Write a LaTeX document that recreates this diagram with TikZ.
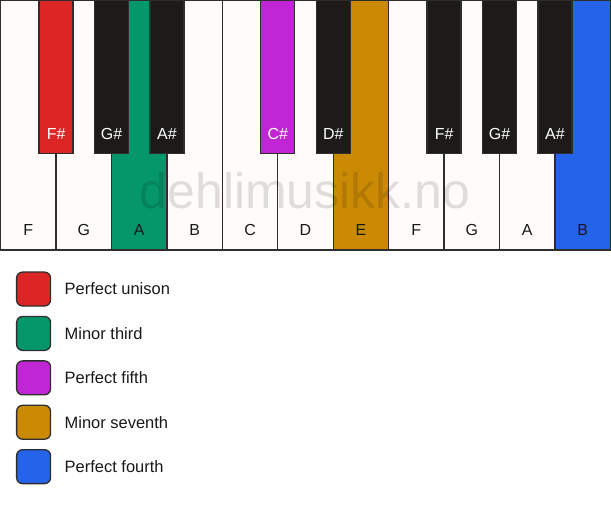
\documentclass[tikz,border=0pt]{standalone}
\usepackage{fontspec}
\setmainfont{Liberation Sans}
\usetikzlibrary{positioning}
\definecolor{keywhite}{HTML}{FDFCF8}
\definecolor{keyblack}{HTML}{1C1B19}
\definecolor{keyline}{HTML}{2E2E2E}
\definecolor{unison}{HTML}{DC2626}
\definecolor{third}{HTML}{059669}
\definecolor{fifth}{HTML}{C026D3}
\definecolor{seventh}{HTML}{CA8A04}
\definecolor{fourth}{HTML}{2563EB}
\tikzset{
    whitekey/.style={
        rectangle, draw=keyline, fill=keywhite,
        minimum width=55.545pt, minimum height=250pt,
        inner sep=0pt, outer sep=0pt, line width=1.3pt,
    },
    blackkey/.style={
        rectangle, draw=keyline, fill=keyblack,
        minimum width=34pt, minimum height=153pt,
        inner sep=0pt, outer sep=0pt, line width=1.3pt,
    },
    keyname/.style={
        anchor=base, yshift=14.3pt, inner sep=0pt,
        font=\fontsize{16}{19}\selectfont, text=black!90,
    },
    keytext/.style={
        label={[keyname]south:#1}
    },
    blacktext/.style={
        label={[keyname,text=white]south:#1}
    },
    swatch/.style={
        rectangle, draw=keyline, line width=1.3pt,
        rounded corners=6pt, minimum size=34pt,
        inner sep=0pt, outer sep=0pt,
    },
    legendtext/.style={
        label={[anchor=west,xshift=14pt,inner sep=0pt,
        font=\fontsize{16.5}{20}\selectfont,text=black!90]east:#1}
    },
    watermark/.style={
        inner sep=0pt, text=black, text opacity=0.12,
        font=\fontsize{50}{58}\selectfont,
    },
}
\begin{document}
\begin{tikzpicture}[x=1pt,y=-1pt]
                \fill[white] (0,0) rectangle (611,506);
                % white keys
                \node[whitekey, anchor=north west, keytext=F] (F1) at (0,0) {};
                \node[whitekey, right=0pt of F1, keytext=G] (G1) {};
                \node[whitekey, right=0pt of G1, fill=third, keytext=A] (A1) {};
                \node[whitekey, right=0pt of A1, keytext=B] (B1) {};
                \node[whitekey, right=0pt of B1, keytext=C] (C1) {};
                \node[whitekey, right=0pt of C1, keytext=D] (D1) {};
                \node[whitekey, right=0pt of D1, fill=seventh, keytext=E] (E1) {};
                \node[whitekey, right=0pt of E1, keytext=F] (F2) {};
                \node[whitekey, right=0pt of F2, keytext=G] (G2) {};
                \node[whitekey, right=0pt of G2, keytext=A] (A2) {};
                \node[whitekey, right=0pt of A2, fill=fourth, keytext=B] (B2) {};
                % black keys
                \node[blackkey, anchor=north, fill=unison, blacktext=F\#] (Fs1) at (F1.north east) {};
                \node[blackkey, anchor=north, blacktext=G\#] (Gs1) at (G1.north east) {};
                \node[blackkey, anchor=north, blacktext=A\#] (As1) at (A1.north east) {};
                \node[blackkey, anchor=north, fill=fifth, blacktext=C\#] (Cs1) at (C1.north east) {};
                \node[blackkey, anchor=north, blacktext=D\#] (Ds1) at (D1.north east) {};
                \node[blackkey, anchor=north, blacktext=F\#] (Fs2) at (F2.north east) {};
                \node[blackkey, anchor=north, blacktext=G\#] (Gs2) at (G2.north east) {};
                \node[blackkey, anchor=north, blacktext=A\#] (As2) at (A2.north east) {};
                \node[watermark, anchor=base] (site) at (305,208) {dehlimusikk.no};
                % legend
                \node[swatch, fill=unison, legendtext=Perfect unison] (unisonbox) at (33,289) {};
                \node[swatch, fill=third, below=10.5pt of unisonbox, legendtext=Minor third] (thirdbox) {};
                \node[swatch, fill=fifth, below=10.5pt of thirdbox, legendtext=Perfect fifth] (fifthbox) {};
                \node[swatch, fill=seventh, below=10.5pt of fifthbox, legendtext=Minor seventh] (seventhbox) {};
                \node[swatch, fill=fourth, below=10.5pt of seventhbox, legendtext=Perfect fourth] (fourthbox) {};
\end{tikzpicture}
\end{document}
